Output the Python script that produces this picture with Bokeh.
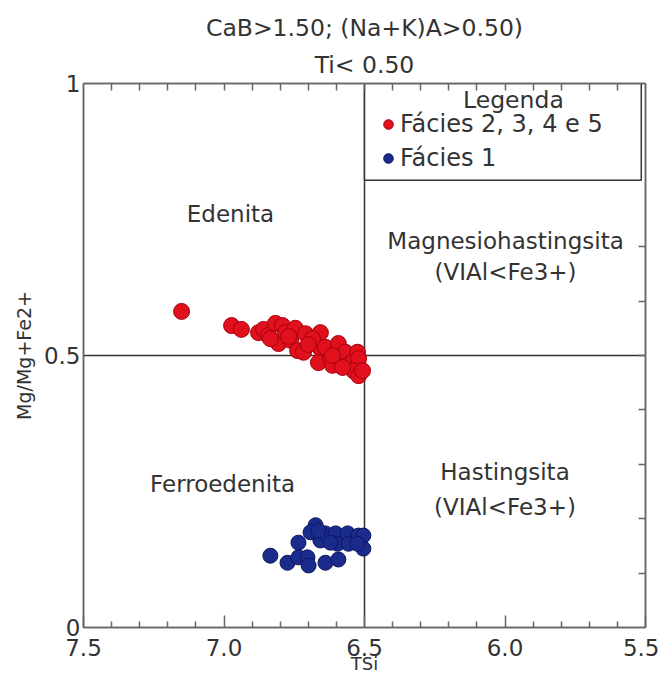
from bokeh.plotting import figure
from bokeh.models import (Range1d, FixedTicker, LinearAxis, Title, Legend,
                          LegendItem, Span, PrintfTickFormatter)
from bokeh.core.properties import value
from bokeh.embed import file_html
from bokeh.resources import INLINE

# ---- data ----
red_x = [7.151, 6.973, 6.938, 6.877, 6.859, 6.842, 6.817, 6.792, 6.806, 6.781,
         6.763, 6.746, 6.738, 6.717, 6.710, 6.685, 6.657, 6.657, 6.639, 6.664,
         6.621, 6.614, 6.593, 6.578, 6.568, 6.560, 6.543, 6.525, 6.521, 6.539,
         6.521, 6.507, 6.614, 6.578, 6.685, 6.835, 6.770, 6.700]
red_y = [0.581, 0.555, 0.548, 0.542, 0.548, 0.537, 0.559, 0.555, 0.522, 0.542,
         0.528, 0.550, 0.509, 0.506, 0.540, 0.528, 0.542, 0.513, 0.515, 0.487,
         0.494, 0.482, 0.522, 0.496, 0.506, 0.482, 0.487, 0.506, 0.494, 0.472,
         0.463, 0.472, 0.500, 0.478, 0.531, 0.531, 0.535, 0.520]
blue_x = [6.835, 6.735, 6.774, 6.735, 6.703, 6.699, 6.639, 6.593, 6.674, 6.692,
          6.657, 6.639, 6.603, 6.596, 6.560, 6.557, 6.521, 6.504, 6.504, 6.525,
          6.621, 6.664]
blue_y = [0.132, 0.156, 0.119, 0.129, 0.129, 0.114, 0.119, 0.125, 0.188, 0.175,
          0.160, 0.173, 0.173, 0.154, 0.173, 0.154, 0.169, 0.169, 0.145, 0.154,
          0.156, 0.178]

x_major = [7.5, 7.0, 6.5, 6.0, 5.5]
x_minor = [7.4, 7.3, 7.2, 7.1, 6.9, 6.8, 6.7, 6.6, 6.4, 6.3, 6.2, 6.1,
           5.9, 5.8, 5.7, 5.6]
x_all = [7.4, 7.3, 7.2, 7.1, 7.0, 6.9, 6.8, 6.7, 6.6, 6.5, 6.4, 6.3, 6.2, 6.1,
         6.0, 5.9, 5.8, 5.7, 5.6]
y_major = [0, 0.5, 1]
y_labels = {0: "0", 0.5: "0.5", 1: "1"}
right_ticks = [0.1, 0.2, 0.3, 0.4, 0.5, 0.6, 0.7]

series_labels = ["Fácies 2, 3, 4 e 5", "Fácies 1"]
title1 = "CaB>1.50; (Na+K)A>0.50)"
title2 = "Ti< 0.50"
x_title = "TSi"
y_title = "Mg/Mg+Fe2+"

field_text = ["Edenita", "Magnesiohastingsita", "(VIAl<Fe3+)",
              "Ferroedenita", "Hastingsita", "(VIAl<Fe3+)"]
field_x = [6.977, 5.998, 5.998, 7.005, 6.0, 6.0]
field_y = [0.761, 0.711, 0.653, 0.263, 0.285, 0.222]

FONT = "DejaVu Sans"
TXT = "#333333"
FRAME = "#666666"

p = figure(width=659, height=681, x_range=Range1d(7.5, 5.5), y_range=Range1d(0, 1),
           output_backend="svg", toolbar_location=None, title=None,
           min_border_left=83, min_border_right=14, min_border_top=83,
           min_border_bottom=54)
p.xgrid.visible = False
p.ygrid.visible = False
p.outline_line_color = FRAME
p.outline_line_width = 1.5
p.background_fill_color = "white"

# bottom axis
xa = p.xaxis[0]
xa.ticker = FixedTicker(ticks=x_major, minor_ticks=x_minor)
xa.formatter = PrintfTickFormatter(format="%.1f")
xa.major_tick_in = 12
xa.major_tick_out = 0
xa.minor_tick_in = 6
xa.minor_tick_out = 0
xa.axis_line_color = FRAME
xa.axis_line_width = 1.5
xa.major_tick_line_color = FRAME
xa.minor_tick_line_color = FRAME
xa.major_tick_line_width = 1.5
xa.minor_tick_line_width = 1.5
xa.major_label_text_font = FONT
xa.major_label_text_font_size = "23px"
xa.major_label_text_color = TXT
xa.major_label_standoff = 11
xa.axis_label = x_title
xa.axis_label_text_font = FONT
xa.axis_label_text_font_size = "18px"
xa.axis_label_text_font_style = "normal"
xa.axis_label_text_color = TXT
xa.axis_label_standoff = -6

# left axis
ya = p.yaxis[0]
ya.ticker = FixedTicker(ticks=y_major, minor_ticks=[])
ya.major_label_overrides = y_labels
ya.major_tick_in = 0
ya.major_tick_out = 0
ya.minor_tick_in = 0
ya.minor_tick_out = 0
ya.axis_line_color = FRAME
ya.axis_line_width = 1.5
ya.major_label_text_font = FONT
ya.major_label_text_font_size = "23px"
ya.major_label_text_color = TXT
ya.major_label_standoff = 3
ya.axis_label = y_title
ya.axis_label_text_font = FONT
ya.axis_label_text_font_size = "19px"
ya.axis_label_text_font_style = "normal"
ya.axis_label_text_color = TXT
ya.axis_label_standoff = 6

# top axis (ticks only, no labels)
top = LinearAxis(ticker=FixedTicker(ticks=[], minor_ticks=x_all),
                 major_tick_in=0, major_tick_out=0, minor_tick_in=7, minor_tick_out=0,
                 axis_line_color=FRAME, axis_line_width=1.5,
                 minor_tick_line_color=FRAME, minor_tick_line_width=1.5)
p.add_layout(top, "above")

# right axis (ticks only, no labels)
right = LinearAxis(ticker=FixedTicker(ticks=[], minor_ticks=right_ticks),
                   major_tick_in=0, major_tick_out=0, minor_tick_in=7, minor_tick_out=0,
                   axis_line_color=FRAME, axis_line_width=1.5,
                   minor_tick_line_color=FRAME, minor_tick_line_width=1.5)
p.add_layout(right, "right")

# titles
t2 = Title(text=title2, align="center", text_font=FONT, text_font_size="23.5px",
           text_font_style="normal", text_color=TXT, standoff=9)
t1 = Title(text=title1, align="center", text_font=FONT, text_font_size="23.5px",
           text_font_style="normal", text_color=TXT, standoff=5)
p.add_layout(t2, "above")
p.add_layout(t1, "above")

# field boundaries
p.add_layout(Span(location=0.5, dimension="width", line_color="#333333",
                  line_width=1.5, level="underlay"))
p.add_layout(Span(location=6.5, dimension="height", line_color="#333333",
                  line_width=1.5, level="underlay"))

# legend box
p.quad(left=[6.5], right=[5.515], bottom=[0.822], top=[1.0],
       fill_color="white", line_color="#333333", line_width=1.5)
p.text(x=[5.97], y=[0.969], text=["Legenda"], text_font=value(FONT),
       text_font_size="23.5px", text_align="center", text_baseline="middle",
       text_color=TXT)

# field names
p.text(x=field_x, y=field_y, text=field_text, text_font=value(FONT),
       text_font_size="23px", text_align="center", text_baseline="middle",
       text_color=TXT)

r_red = p.scatter(red_x, red_y, size=16, fill_color="#E0101C",
                  line_color="#A8000F", line_width=1)
r_blue = p.scatter(blue_x, blue_y, size=15, fill_color="#1B2B8C",
                   line_color="#0C1760", line_width=1)

legend = Legend(items=[LegendItem(label=series_labels[0], renderers=[r_red]),
                       LegendItem(label=series_labels[1], renderers=[r_blue])],
                location=(293, 455), border_line_alpha=0, background_fill_alpha=0,
                padding=0, margin=0, spacing=6, glyph_width=24, glyph_height=24,
                label_standoff=-2, label_text_font=FONT, label_text_font_size="24px",
                label_text_color=TXT)
p.add_layout(legend)

open("out.html", "w").write(file_html(p, INLINE))
